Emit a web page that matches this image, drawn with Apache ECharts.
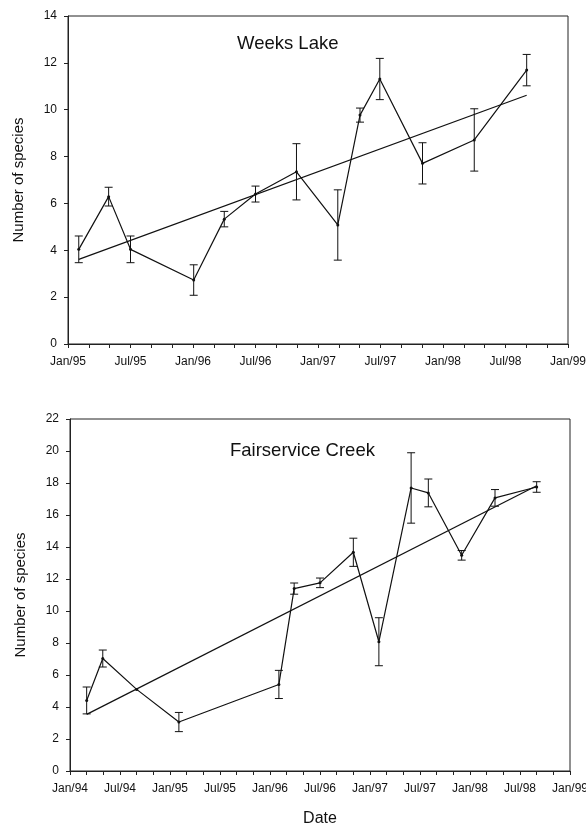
<!DOCTYPE html>
<html>
<head>
<meta charset="utf-8">
<script src="https://cdn.jsdelivr.net/npm/echarts@6/dist/echarts.min.js"></script>
<style>
  html, body { margin: 0; padding: 0; background: #fff; }
  #chart { width: 586px; height: 825px; }
</style>
</head>
<body>
<div id="chart"></div>
<script>
// Weeks Lake (top panel)
var weeksDates = ['1995-02-02', '1995-04-28', '1995-07-01', '1996-01-03', '1996-04-01', '1996-07-01',
  '1996-10-29', '1997-02-28', '1997-05-02', '1997-06-29', '1997-11-02', '1998-04-01', '1998-09-02'];
var weeksMean = [4.04, 6.29, 4.04, 2.73, 5.33, 6.40, 7.35, 5.08, 9.77, 11.31, 7.71, 8.71, 11.69];
var weeksErr = [0.57, 0.40, 0.57, 0.65, 0.33, 0.34, 1.20, 1.50, 0.30, 0.88, 0.88, 1.33, 0.67];
var weeksTrend = [3.61, 10.62]; // fitted values at first and last date

// Fairservice Creek (bottom panel)
var fairDates = ['1994-03-01', '1994-04-29', '1994-09-01', '1995-02-03', '1996-02-03', '1996-03-28',
  '1996-07-01', '1996-11-01', '1997-02-03', '1997-05-29', '1997-07-31', '1997-12-01', '1998-04-01', '1998-09-01'];
var fairMean = [4.41, 7.03, 5.10, 3.06, 5.41, 11.40, 11.76, 13.67, 8.08, 17.69, 17.38, 13.48, 17.07, 17.75];
var fairErr = [0.84, 0.53, 0, 0.60, 0.88, 0.35, 0.30, 0.88, 1.50, 2.20, 0.87, 0.30, 0.52, 0.33];
var fairTrend = [3.54, 17.83];

var font = 'Liberation Sans, Arial, sans-serif';

// months since January of the origin year
function toMonths(s, y0) {
  var p = s.split('-');
  return (+p[0] - y0) * 12 + (+p[1] - 1) + (+p[2] - 1) / 30;
}

function monthLabel(y0) {
  return function (v) {
    var m = Math.round(v);
    var yr = (y0 + Math.floor(m / 12)) % 100;
    return (m % 12 === 0 ? 'Jan' : 'Jul') + '/' + (yr < 10 ? '0' : '') + yr;
  };
}

function pts(dates, vals, y0) {
  return dates.map(function (d, i) { return [toMonths(d, y0), vals[i]]; });
}

function errData(dates, vals, errs, y0) {
  return dates.map(function (d, i) { return [toMonths(d, y0), vals[i], errs[i]]; });
}

function trendData(dates, trend, y0) {
  return [[toMonths(dates[0], y0), trend[0]], [toMonths(dates[dates.length - 1], y0), trend[1]]];
}

function renderErr(params, api) {
  var x = api.value(0), y = api.value(1), e = api.value(2);
  if (!e) return null;
  var hi = api.coord([x, y + e]);
  var lo = api.coord([x, y - e]);
  var w = 4;
  var st = { stroke: '#111', lineWidth: 1 };
  return {
    type: 'group',
    children: [
      { type: 'line', shape: { x1: hi[0], y1: hi[1], x2: lo[0], y2: lo[1] }, style: st },
      { type: 'line', shape: { x1: hi[0] - w, y1: hi[1], x2: hi[0] + w, y2: hi[1] }, style: st },
      { type: 'line', shape: { x1: lo[0] - w, y1: lo[1], x2: lo[0] + w, y2: lo[1] }, style: st }
    ]
  };
}

function xAx(idx, y0, max, name) {
  return {
    type: 'value', gridIndex: idx, min: 0, max: max, interval: 6,
    axisLine: { lineStyle: { color: '#222', width: 1 } },
    axisTick: { show: true, length: 4, lineStyle: { color: '#222' } },
    minorTick: { show: true, splitNumber: 3, length: 4, lineStyle: { color: '#222' } },
    splitLine: { show: false },
    axisLabel: { formatter: monthLabel(y0), color: '#111', fontFamily: font, fontSize: 12, margin: 12 },
    name: name, nameLocation: 'middle', nameGap: 40,
    nameTextStyle: { color: '#111', fontFamily: font, fontSize: 16 }
  };
}

function yAx(idx, max) {
  return {
    type: 'value', gridIndex: idx, min: 0, max: max, interval: 2,
    axisLine: { show: true, lineStyle: { color: '#222', width: 1 } },
    axisTick: { show: true, length: 4, lineStyle: { color: '#222' } },
    splitLine: { show: false },
    axisLabel: { color: '#111', fontFamily: font, fontSize: 12, margin: 11 },
    name: 'Number of species', nameLocation: 'middle', nameGap: 42,
    nameTextStyle: { color: '#111', fontFamily: font, fontSize: 15 }
  };
}

var lineStyle = { color: '#111', width: 1.2 };

var chart = echarts.init(document.getElementById('chart'), null, { renderer: 'canvas' });
chart.setOption({
  animation: false,
  backgroundColor: '#fff',
  title: [
    { text: 'Weeks Lake', left: 232, top: 29, textStyle: { fontFamily: font, fontSize: 18.5, fontWeight: 'normal', color: '#111' } },
    { text: 'Fairservice Creek', left: 225, top: 436, textStyle: { fontFamily: font, fontSize: 18.5, fontWeight: 'normal', color: '#111' } }
  ],
  grid: [
    { left: 68, top: 16, width: 500, height: 328, show: true, borderColor: '#222', borderWidth: 1, outerBoundsMode: 'none' },
    { left: 70, top: 419, width: 500, height: 352, show: true, borderColor: '#222', borderWidth: 1, outerBoundsMode: 'none' }
  ],
  xAxis: [xAx(0, 1995, 48, ''), xAx(1, 1994, 60, 'Date')],
  yAxis: [yAx(0, 14), yAx(1, 22)],
  series: [
    { type: 'line', xAxisIndex: 0, yAxisIndex: 0, data: pts(weeksDates, weeksMean, 1995),
      symbol: 'circle', symbolSize: 3, itemStyle: { color: '#111' }, lineStyle: lineStyle },
    { type: 'custom', xAxisIndex: 0, yAxisIndex: 0, data: errData(weeksDates, weeksMean, weeksErr, 1995),
      renderItem: renderErr, z: 3 },
    { type: 'line', xAxisIndex: 0, yAxisIndex: 0, data: trendData(weeksDates, weeksTrend, 1995),
      symbol: 'none', lineStyle: lineStyle },
    { type: 'line', xAxisIndex: 1, yAxisIndex: 1, data: pts(fairDates, fairMean, 1994),
      symbol: 'circle', symbolSize: 3, itemStyle: { color: '#111' }, lineStyle: lineStyle },
    { type: 'custom', xAxisIndex: 1, yAxisIndex: 1, data: errData(fairDates, fairMean, fairErr, 1994),
      renderItem: renderErr, z: 3 },
    { type: 'line', xAxisIndex: 1, yAxisIndex: 1, data: trendData(fairDates, fairTrend, 1994),
      symbol: 'none', lineStyle: lineStyle }
  ]
});
</script>
</body>
</html>
